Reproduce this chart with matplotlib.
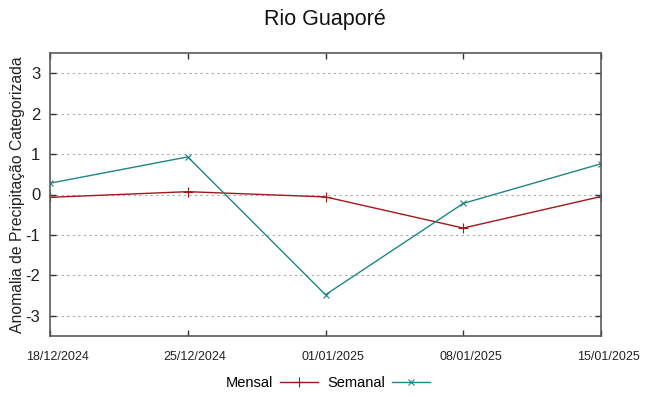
import matplotlib
matplotlib.use("Agg")
import matplotlib.pyplot as plt
import matplotlib.transforms as mtransforms
from matplotlib.lines import Line2D

plt.rcParams['font.family'] = ['Liberation Sans', 'DejaVu Sans']
plt.rcParams['axes.unicode_minus'] = False

dates = ["18/12/2024", "25/12/2024", "01/01/2025", "08/01/2025", "15/01/2025"]
mensal = [-0.07, 0.07, -0.06, -0.83, -0.05]
semanal = [0.28, 0.93, -2.48, -0.22, 0.76]
yticks = [-3, -2, -1, 0, 1, 2, 3]

c_mensal = "#a0181c"
c_semanal = "#1f8585"

fig = plt.figure(figsize=(6.49, 3.96), dpi=100)
ax = fig.add_axes([50/649, 60/396, 551/649, 283/396])

x = list(range(len(dates)))
ax.plot(x, mensal, color=c_mensal, lw=1.0, marker='+', ms=6.5, mew=0.8, label='Mensal')
ax.plot(x, semanal, color=c_semanal, lw=1.0, marker='x', ms=4.5, mew=0.8, label='Semanal')

ax.set_xlim(0, len(dates) - 1)
ax.set_ylim(-3.5, 3.5)
ax.set_xticks(x)
ax.set_xticklabels(dates, fontsize=9)
ax.set_yticks(yticks)
ax.set_yticklabels([str(v) for v in yticks], fontsize=12)
ax.tick_params(direction='in', length=4, width=1, colors='#333333', top=True, right=True)
ax.tick_params(axis='x', pad=11)
ax.tick_params(axis='y', pad=7)
offset = mtransforms.ScaledTranslation(7.5/100, 0, fig.dpi_scale_trans)
for lbl in ax.get_xticklabels():
    lbl.set_transform(lbl.get_transform() + offset)
for lbl in ax.get_xticklabels() + ax.get_yticklabels():
    lbl.set_color('#222222')
for s in ax.spines.values():
    s.set_color('#5a5a5a')
    s.set_linewidth(1.2)
ax.yaxis.grid(True, linestyle=(0, (2, 3)), color='#aaaaaa', lw=0.8)
ax.set_axisbelow(True)

ax.set_ylabel("Anomalia de Precipitação Categorizada", fontsize=11.3, color='#222222')
ax.yaxis.set_label_coords(-25/551, 0.5)
fig.suptitle("Rio Guaporé", fontsize=15.5, x=325/649, y=1 - 20/396, va='center', color='#111111')

handles = [Line2D([], [], color=c_mensal, lw=1.0, marker='+', ms=6.5, mew=0.8),
           Line2D([], [], color=c_semanal, lw=1.0, marker='x', ms=4.5, mew=0.8)]
fig.legend(handles, ['Mensal', 'Semanal'], loc='center', bbox_to_anchor=(328/649, 1 - 383/396),
           ncol=2, frameon=False, markerfirst=False, fontsize=10.5, handlelength=2.6,
           columnspacing=0.6, handletextpad=0.5)

fig.savefig("out.png", dpi=100)
